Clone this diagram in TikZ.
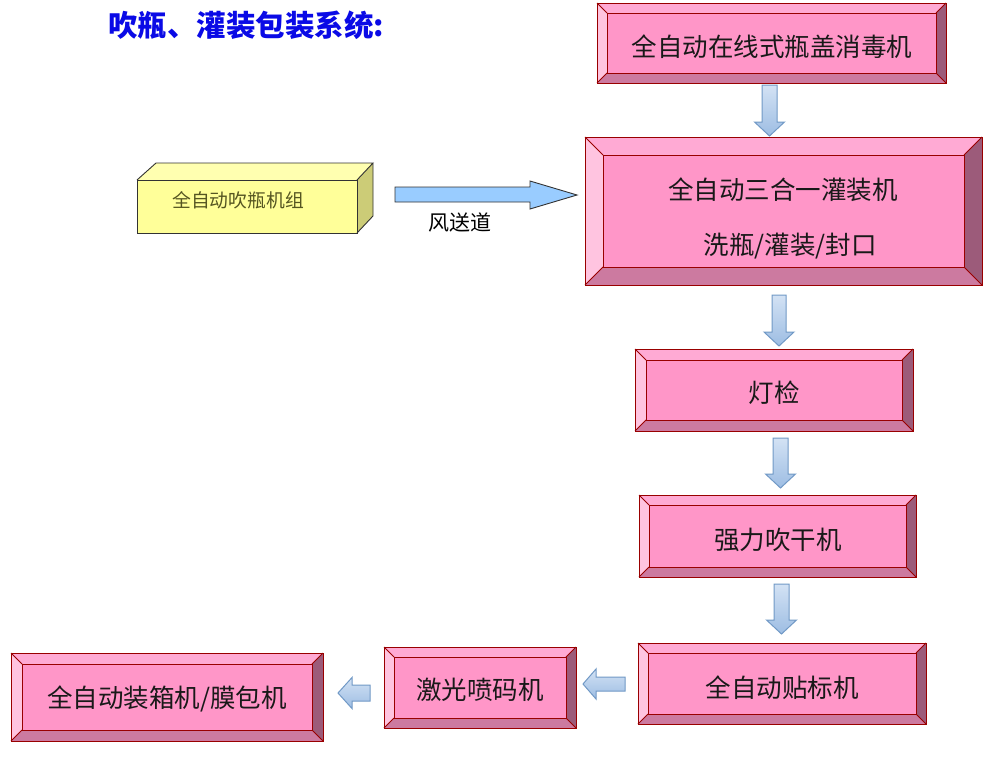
\documentclass[tikz,border=0pt]{standalone}
\usepackage{fontspec}
\setmainfont{Noto Sans CJK SC}
\newfontfamily\cjk{Noto Sans CJK SC}
\definecolor{bvface}{HTML}{FF96C8}
\definecolor{bvtop}{HTML}{FFAAD4}
\definecolor{bvleft}{HTML}{FFC4E0}
\definecolor{bvright}{HTML}{9C5B7A}
\definecolor{bvbot}{HTML}{CC7AA0}
\definecolor{bvborder}{HTML}{990000}
\definecolor{yfront}{HTML}{FFFF99}
\definecolor{ytop}{HTML}{FFFFB0}
\definecolor{yside}{HTML}{CCCC77}
\definecolor{ytext}{HTML}{555522}
\definecolor{bluearr}{HTML}{99CCFF}
\definecolor{arrtop}{HTML}{D3E2F4}
\definecolor{arrbot}{HTML}{9DBDE3}
\definecolor{arrline}{HTML}{7199C6}
\definecolor{titleblue}{HTML}{0A0AE6}
\tikzset{
  bvline/.style={draw=bvborder, line width=0.9pt},
  boxtxt/.style={font=\cjk\fontsize{25.5}{29}\selectfont, text=black!90, inner sep=0pt},
  blockarr/.style={top color=arrtop, bottom color=arrbot, draw=arrline, line width=1pt, line join=miter},
}
\newcommand\bevbox[6]{%
  \fill[bvleft] (#2,#3) -- (#2+#6,#3+#6) -- (#2+#6,#5-#6) -- (#2,#5) -- cycle;
  \fill[bvtop] (#2,#3) -- (#4,#3) -- (#4-#6,#3+#6) -- (#2+#6,#3+#6) -- cycle;
  \fill[bvright] (#4,#3) -- (#4,#5) -- (#4-#6,#5-#6) -- (#4-#6,#3+#6) -- cycle;
  \fill[bvbot] (#2,#5) -- (#4,#5) -- (#4-#6,#5-#6) -- (#2+#6,#5-#6) -- cycle;
  \draw[bvline, fill=bvface] (#2+#6,#3+#6) rectangle (#4-#6,#5-#6);
  \draw[bvline] (#2,#3) -- (#2+#6,#3+#6) (#4,#3) -- (#4-#6,#3+#6)
     (#4,#5) -- (#4-#6,#5-#6) (#2,#5) -- (#2+#6,#5-#6);
  \node[draw=bvborder, line width=1pt, inner sep=0pt, outer sep=0pt, anchor=north west,
        minimum width={(#4-#2)*1pt}, minimum height={(#5-#3)*1pt}] (#1) at (#2,#3) {};
}
% down block arrow: centre x, top y, head start y, tip y, shaft half width, head half width
\newcommand\downarr[6]{%
  \shade[blockarr] (#1-#5,#2) -- (#1+#5,#2) -- (#1+#5,#3) -- (#1+#6,#3) -- (#1,#4)
     -- (#1-#6,#3) -- (#1-#5,#3) -- cycle;
}
% left block arrow: tip x, head base x, tail x, centre y, shaft half width, head half width
\newcommand\leftarr[6]{%
  \shade[blockarr] (#3,#4-#5) -- (#3,#4+#5) -- (#2,#4+#5) -- (#2,#4+#6) -- (#1,#4)
     -- (#2,#4-#6) -- (#2,#4-#5) -- cycle;
}
\begin{document}
\begin{tikzpicture}[x=1pt,y=-1pt]
\useasboundingbox[fill=white] (0,0) rectangle (996,758);

% title
\node[anchor=west, inner sep=0pt, text=titleblue, font=\cjk\bfseries\fontsize{29.5}{33}\selectfont] (title) at (108,25) {吹瓶、灌装包装系统:};

% boxes
\bevbox{b1}{597}{3}{946}{83}{10}
\bevbox{b2}{585}{137}{982}{285}{18}
\bevbox{b3}{635}{349}{913}{431}{11}
\bevbox{b4}{639}{495}{916}{577}{10}
\bevbox{b5}{638}{643}{926}{724}{10}
\bevbox{b6}{384}{647}{576}{728}{10}
\bevbox{b7}{11}{653}{323}{741}{11}

\node[boxtxt] (t1) at (772,47) {全自动在线式瓶盖消毒机};
\node[boxtxt] (t2a) at (783,190) {全自动三合一灌装机};
\node[boxtxt] (t2b) at (790,246) {洗瓶/灌装/封口};
\node[boxtxt] (t3) at (774,393) {灯检};
\node[boxtxt] (t4) at (778,540) {强力吹干机};
\node[boxtxt] (t5) at (782,688) {全自动贴标机};
\node[boxtxt] (t6) at (480,690) {激光喷码机};
\node[boxtxt] (t7) at (167,699) {全自动装箱机/膜包机};

% yellow cuboid
\fill[ytop] (137,180) -- (156,163) -- (373,163) -- (357,180) -- cycle;
\fill[yside] (357,180) -- (373,163) -- (373,216) -- (357,233) -- cycle;
\node[draw=black!80, fill=yfront, line width=0.9pt, inner sep=0pt, anchor=north west,
      minimum width=220pt, minimum height=53pt] (blow) at (137,180) {};
\draw[black!80, line width=0.9pt, line join=miter] (137,180) -- (156,163) -- (373,163) -- (357,180)
   (373,163) -- (373,216) -- (357,233);
\node[inner sep=0pt, text=ytext, font=\cjk\fontsize{18.8}{22}\selectfont] (blowt) at (238,200) {全自动吹瓶机组};

% right arrow (air conveyor)
\draw[fill=bluearr, draw=black!80, line width=0.9pt, line join=miter]
  (395,187) -- (530,187) -- (530,181) -- (577,195) -- (530,209) -- (530,202) -- (395,202) -- cycle;
\node[inner sep=0pt, font=\cjk\fontsize{21}{25}\selectfont] (air) at (460,222) {风送道};

% flow arrows
\downarr{769.5}{85}{122}{136}{7.5}{15}
\downarr{779}{295}{332}{346}{7}{15}
\downarr{780.5}{438}{474}{488}{7.5}{15}
\downarr{781.5}{584}{620}{634}{7.5}{15}
\leftarr{583}{596}{625}{684}{7}{15}
\leftarr{338}{352}{370}{693}{8}{15.5}
\end{tikzpicture}
\end{document}
